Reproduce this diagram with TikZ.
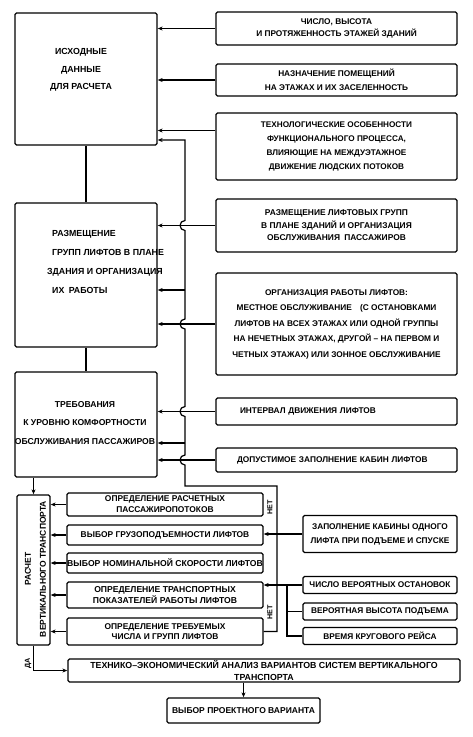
\documentclass[tikz,border=0pt]{standalone}
\usepackage{fontspec}
\setmainfont{Liberation Sans}
\usetikzlibrary{arrows.meta}
\newcommand\myfs[2]{\fontsize{#1}{#2}\selectfont\bfseries}
\begin{document}
\begin{tikzpicture}[x=1pt,y=-1pt,
  box/.style={draw, line width=1.3pt, rounded corners=1.5pt, inner sep=0pt, align=center},
  txt/.style={inner sep=0pt, align=center},
  con/.style={line width=1.2pt},
  arr/.style={con, -{Stealth[length=5pt,width=4pt]}},
  lbl/.style={inner sep=0pt, rotate=90, font=\myfs{7.2}{8}},
]
\useasboundingbox[fill=white] (0,0) rectangle (473,737);

% left column
\node[box, minimum width=142pt, minimum height=132pt] (A) at (86,79) {};
\node[txt, font=\myfs{8.8}{17.5}] (At) at (81,70) {ИСХОДНЫЕ\\ДАННЫЕ\\ДЛЯ РАСЧЕТА};
\node[box, minimum width=142pt, minimum height=144pt] (B) at (86,275) {};
\node[txt, align=left, anchor=west, font=\myfs{8.8}{19}] (Bt) at (47,261.5)
  {\hspace*{5pt}РАЗМЕЩЕНИЕ\\\hspace*{5pt}ГРУПП ЛИФТОВ В ПЛАНЕ\\ЗДАНИЯ И ОРГАНИЗАЦИЯ\\\hspace*{5pt}ИХ\enspace РАБОТЫ};
\node[box, minimum width=142pt, minimum height=105pt] (C) at (86,424.5) {};
\node[txt, font=\myfs{8.6}{18.5}] (Ct) at (85,423) {ТРЕБОВАНИЯ\\К УРОВНЮ КОМФОРТНОСТИ\\ОБСЛУЖИВАНИЯ ПАССАЖИРОВ};

% right column
\node[box, minimum width=241pt, minimum height=33pt, font=\myfs{8.3}{12}] (R1) at (336.5,28.5)
  {ЧИСЛО, ВЫСОТА\\И ПРОТЯЖЕННОСТЬ ЭТАЖЕЙ ЗДАНИЙ};
\node[box, minimum width=241pt, minimum height=32pt, font=\myfs{8.3}{14}] (R2) at (336.5,80)
  {НАЗНАЧЕНИЕ ПОМЕЩЕНИЙ\\НА ЭТАЖАХ И ИХ ЗАСЕЛЕННОСТЬ};
\node[box, minimum width=241pt, minimum height=67pt, font=\myfs{8.2}{14}] (R3) at (336.5,146.5)
  {ТЕХНОЛОГИЧЕСКИЕ ОСОБЕННОСТИ\\ФУНКЦИОНАЛЬНОГО ПРОЦЕССА,\\ВЛИЯЮЩИЕ НА МЕЖДУЭТАЖНОЕ\\ДВИЖЕНИЕ ЛЮДСКИХ ПОТОКОВ};
\node[box, minimum width=241pt, minimum height=53pt, font=\myfs{8.4}{12.5}] (R4) at (336.5,225.5)
  {РАЗМЕЩЕНИЕ ЛИФТОВЫХ ГРУПП\\В ПЛАНЕ ЗДАНИЙ И ОРГАНИЗАЦИЯ\\ОБСЛУЖИВАНИЯ\enspace ПАССАЖИРОВ};
\node[box, minimum width=241pt, minimum height=102pt, font=\myfs{8.3}{15.5}] (R5) at (336.5,324)
  {ОРГАНИЗАЦИЯ РАБОТЫ ЛИФТОВ:\\МЕСТНОЕ ОБСЛУЖИВАНИЕ\quad (С ОСТАНОВКАМИ\\ЛИФТОВ НА ВСЕХ ЭТАЖАХ ИЛИ ОДНОЙ ГРУППЫ\\НА НЕЧЕТНЫХ ЭТАЖАХ, ДРУГОЙ -- НА ПЕРВОМ И\\ЧЕТНЫХ ЭТАЖАХ) ИЛИ ЗОННОЕ ОБСЛУЖИВАНИЕ};
\node[box, minimum height=27pt, text width=193pt, inner xsep=24pt, align=left, font=\myfs{8.3}{10}] (R6) at (336.5,411.5)
  {ИНТЕРВАЛ ДВИЖЕНИЯ ЛИФТОВ};
\node[box, minimum height=24pt, text width=199pt, inner xsep=21pt, align=left, font=\myfs{8.3}{10}] (R7) at (336.5,460)
  {ДОПУСТИМОЕ ЗАПОЛНЕНИЕ КАБИН ЛИФТОВ};

% lower part
\node[box, minimum width=33pt, minimum height=150pt] (T) at (33.5,570) {};
\node[txt, rotate=90, font=\myfs{8.5}{15}] (Tt) at (35.5,569) {РАСЧЕТ\\ВЕРТИКАЛЬНОГО ТРАНСПОРТА};

\node[box, minimum width=196pt, minimum height=23pt, font=\myfs{8.4}{11}] (I1) at (165,504.5)
  {ОПРЕДЕЛЕНИЕ РАСЧЕТНЫХ\\ПАССАЖИРОПОТОКОВ};
\node[box, minimum width=196pt, minimum height=20pt, font=\myfs{8.4}{10}] (I2) at (165,535)
  {ВЫБОР ГРУЗОПОДЪЕМНОСТИ ЛИФТОВ};
\node[box, minimum width=196pt, minimum height=20pt, font=\myfs{8.6}{10}] (I3) at (165,563)
  {ВЫБОР НОМИНАЛЬНОЙ СКОРОСТИ ЛИФТОВ};
\node[box, minimum width=196pt, minimum height=26pt, font=\myfs{8.6}{11}] (I4) at (165,595)
  {ОПРЕДЕЛЕНИЕ ТРАНСПОРТНЫХ\\ПОКАЗАТЕЛЕЙ РАБОТЫ ЛИФТОВ};
\node[box, minimum width=196pt, minimum height=27pt, font=\myfs{8.4}{10.5}] (I5) at (165,631.5)
  {ОПРЕДЕЛЕНИЕ ТРЕБУЕМЫХ\\ЧИСЛА И ГРУПП ЛИФТОВ};

\node[box, minimum width=154pt, minimum height=37pt, font=\myfs{8.3}{14}] (S1) at (380,534)
  {ЗАПОЛНЕНИЕ КАБИНЫ ОДНОГО\\ЛИФТА ПРИ ПОДЪЕМЕ И СПУСКЕ};
\node[box, minimum width=154pt, minimum height=17pt, font=\myfs{8.3}{10}] (S2) at (380,585)
  {ЧИСЛО ВЕРОЯТНЫХ ОСТАНОВОК};
\node[box, minimum width=154pt, minimum height=17pt, font=\myfs{8.3}{10}] (S3) at (380,611.5)
  {ВЕРОЯТНАЯ ВЫСОТА ПОДЪЕМА};
\node[box, minimum width=154pt, minimum height=17pt, font=\myfs{8.3}{10}] (S4) at (380,636)
  {ВРЕМЯ КРУГОВОГО РЕЙСА};

\node[box, minimum width=392pt, minimum height=23pt, font=\myfs{8.8}{12}] (E) at (264,670.5)
  {ТЕХНИКО--ЭКОНОМИЧЕСКИЙ АНАЛИЗ ВАРИАНТОВ СИСТЕМ ВЕРТИКАЛЬНОГО\\ТРАНСПОРТА};
\node[box, minimum width=153pt, minimum height=25pt, font=\myfs{8.5}{10}] (P) at (243.5,710.5)
  {ВЫБОР ПРОЕКТНОГО ВАРИАНТА};

% labels
\node[lbl] (net1) at (270,507) {НЕТ};
\node[lbl] (net2) at (270,612) {НЕТ};
\node[lbl] (da) at (28,663) {ДА};

% coordinates
\coordinate (k2) at (277,486);
\coordinate (k3) at (185,486);
\coordinate (k4) at (185,140);
\coordinate (b1) at (185,443);
\coordinate (b2) at (185,290);
\coordinate (bx) at (287,585);

% upper connectors
\draw[arr] (R1.west) -- (R1.west -| A.east);
\draw[arr] (R2.west) -- (R2.west -| A.east);
\draw[arr] ([yshift=16pt]R3.west) -- ([yshift=16pt]R3.west -| A.east);
\draw[con] (A.south) -- (B.north);
\draw[con] (B.south) -- (C.north);
\draw[arr] (R4.west) -- (R4.west -| B.east);
\draw[arr] (R5.west) -- (R5.west -| B.east);
\draw[arr] (R6.west) -- (R6.west -| C.east);
\draw[arr] (R7.west) -- (R7.west -| C.east);
\draw[arr] (T.north |- C.south) -- (T.north);

% feedback loop
\draw[arr] (I5.east) -| (k2) -- (k3)
  -- (185,465) arc[start angle=270,end angle=90,radius=5pt]
  -- (185,416.5) arc[start angle=270,end angle=90,radius=5pt]
  -- (185,329) arc[start angle=270,end angle=90,radius=5pt]
  -- (185,230.5) arc[start angle=270,end angle=90,radius=5pt]
  -- (k4) -- (k4 -| A.east);
\draw[arr] (b1) -- (b1 -| C.east);
\draw[arr] (b2) -- (b2 -| B.east);

% lower connectors
\draw[arr] (I1.west) -- (I1.west -| T.east);
\draw[arr] (I2.west) -- (I2.west -| T.east);
\draw[arr] (I3.west) -- (I3.west -| T.east);
\draw[arr] (I4.west) -- (I4.west -| T.east);
\draw[arr] (I5.west) -- (I5.west -| T.east);
\draw[arr] (S1.west) -- (S1.west -| I2.east);
\draw[arr] (S2.west) -- (S2.west -| I4.east);
\draw[con] (bx) |- (S4.west);
\draw[con] (bx |- S3.west) -- (S3.west);
\draw[arr] (T.south) |- (E.west);
\draw[arr] (E.south -| P.north) -- (P.north);
\end{tikzpicture}
\end{document}
